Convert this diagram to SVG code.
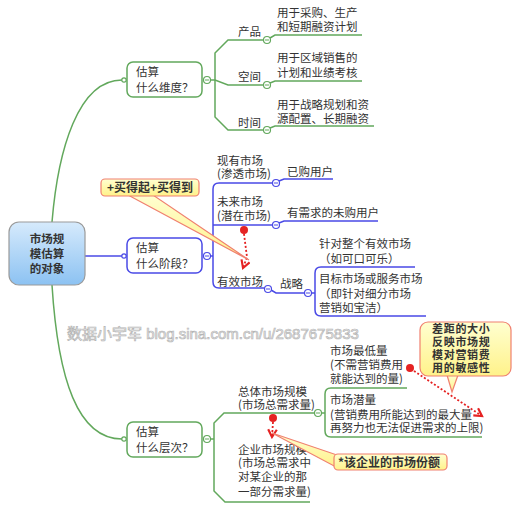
<svg xmlns="http://www.w3.org/2000/svg" width="523" height="508" viewBox="0 0 523 508">
<defs>
<linearGradient id="rootg" x1="0" y1="0" x2="0" y2="1">
<stop offset="0" stop-color="#d6eafc"/>
<stop offset="1" stop-color="#8cc2f2"/>
</linearGradient>
<linearGradient id="noteg" x1="0" y1="0" x2="0" y2="1">
<stop offset="0" stop-color="#ffffd0"/>
<stop offset="1" stop-color="#fff28a"/>
</linearGradient>
<marker id="arr" viewBox="0 0 10 10" refX="8" refY="5" markerWidth="6" markerHeight="6" orient="auto">
<path d="M1 1 L8 5 L1 9" fill="none" stroke="#e52222" stroke-width="2"/>
</marker>
<style>
text{font-family:"Noto Sans CJK SC","Noto Sans",sans-serif;font-size:11.5px;fill:#333}
.g{stroke:#62a85c;fill:none;stroke-width:1.5}
.b{stroke:#4a4ae6;fill:none;stroke-width:1.5}
.gn{stroke:#62a85c;fill:#fff;stroke-width:1.5}
.bn{stroke:#4a4ae6;fill:#fff;stroke-width:1.5}
.cg{stroke:#62a85c;fill:#fff;stroke-width:1.2}
.cb{stroke:#4a4ae6;fill:#fff;stroke-width:1.2}
.mg{stroke:#62a85c;stroke-width:1}
.mb{stroke:#4a4ae6;stroke-width:1}
.note{fill:url(#noteg);stroke:#f08070;stroke-width:1.2}
.nt{font-weight:bold;font-size:12px;fill:#333}
.nt2{font-weight:bold;font-size:11px;letter-spacing:0.7px;fill:#333}
.red{fill:#e52222}
.dot{stroke:#e52222;stroke-width:1.8;fill:none;stroke-dasharray:2 2}
.wm{font-family:"Liberation Sans","Noto Sans CJK SC",sans-serif;font-size:15px;fill:#f4f4f4;stroke:#a8a8a8;stroke-width:0.7}
</style>
</defs>

<g id="watermark" opacity="0.85">
<text class="wm" x="67" y="339">数据小宇军 blog.sina.com.cn/u/2687675833</text>
</g>

<g id="connectors">
<path class="g" d="M 52 222 C 58 150, 78 80, 122 80"/>
<path class="b" d="M 85 256 H 122"/>
<path class="g" d="M 52 285 C 58 380, 78 439, 122 439"/>
<circle class="cg" cx="124" cy="80" r="2.2"/>
<circle class="cb" cx="124" cy="256" r="2.2"/>
<circle class="cg" cx="124" cy="439" r="2.2"/>

<!-- branch 1 -->
<path class="g" d="M 210.5 80 H 215 L 228 85 H 263.5"/>
<path class="g" d="M 263.5 40 H 228 L 215 53 V 117 L 228 130 H 263.5"/>
<path class="g" d="M 270 38 L 275 35 H 362"/>
<path class="g" d="M 270 83 L 275 81 H 362"/>
<path class="g" d="M 270 128 L 275 126 H 374"/>

<!-- branch 2 -->
<path class="b" d="M 210.5 256 H 213"/>
<path class="b" d="M 272.5 183 H 219 Q 213 183 213 189 V 282 Q 213 288 219 288 H 264.5"/>
<path class="b" d="M 213 225 H 272.5"/>
<path class="b" d="M 279 181 L 284 179 H 333"/>
<path class="b" d="M 279 223 L 284 221 H 378"/>
<path class="b" d="M 271 290 L 276 293 H 304.5"/>
<path class="b" d="M 311.5 293 H 315"/>
<path class="b" d="M 415 267 H 321 Q 315 267 315 273 V 310 Q 315 316 321 316 H 426"/>

<!-- branch 3 -->
<path class="g" d="M 210.5 439 H 214"/>
<path class="g" d="M 314.5 413 H 224 L 214 423 V 491 L 225 502 H 310"/>
<path class="g" d="M 321.5 413 H 325"/>
<path class="g" d="M 407 388 H 331 Q 325 388 325 394 V 431 Q 325 437 331 437 H 482"/>
</g>

<g id="collapse-markers">
<circle class="cg" cx="207" cy="80" r="3.5"/><path class="mg" d="M205 80 H209"/>
<circle class="cb" cx="207" cy="256" r="3.5"/><path class="mb" d="M205 256 H209"/>
<circle class="cg" cx="207" cy="439" r="3.5"/><path class="mg" d="M205 439 H209"/>
<circle class="cg" cx="267" cy="40" r="3.5"/><path class="mg" d="M265 40 H269"/>
<circle class="cg" cx="267" cy="85" r="3.5"/><path class="mg" d="M265 85 H269"/>
<circle class="cg" cx="267" cy="130" r="3.5"/><path class="mg" d="M265 130 H269"/>
<circle class="cb" cx="276" cy="183" r="3.5"/><path class="mb" d="M274 183 H278"/>
<circle class="cb" cx="276" cy="225" r="3.5"/><path class="mb" d="M274 225 H278"/>
<circle class="cb" cx="268" cy="289" r="3.5"/><path class="mb" d="M266 289 H270"/>
<circle class="cb" cx="308" cy="293" r="3.5"/><path class="mb" d="M306 293 H310"/>
<circle class="cg" cx="318" cy="413" r="3.5"/><path class="mg" d="M316 413 H320"/>
</g>

<g id="root">
<rect x="9" y="222" width="76" height="63" rx="10" fill="url(#rootg)" stroke="#9a9a9a" stroke-width="1.2"/>
<text text-anchor="middle" font-weight="bold" font-size="12px"><tspan x="47" y="243">市场规</tspan><tspan x="47" y="258">模估算</tspan><tspan x="47" y="273">的对象</tspan></text>
</g>

<g id="n-dimension">
<rect class="gn" x="127" y="62" width="75" height="35" rx="6"/>
<text><tspan x="136" y="76">估算</tspan><tspan x="136" y="92">什么维度？</tspan></text>
</g>
<g id="n-stage">
<rect class="bn" x="127" y="238" width="75" height="35" rx="6"/>
<text><tspan x="136" y="252">估算</tspan><tspan x="136" y="268">什么阶段？</tspan></text>
</g>
<g id="n-level">
<rect class="gn" x="127" y="422" width="75" height="35" rx="6"/>
<text><tspan x="136" y="436">估算</tspan><tspan x="136" y="452">什么层次？</tspan></text>
</g>

<g id="n-product"><text x="238" y="36">产品</text></g>
<g id="n-space"><text x="238" y="81">空间</text></g>
<g id="n-time"><text x="238" y="127">时间</text></g>
<g id="l-product"><text><tspan x="277" y="17">用于采购、生产</tspan><tspan x="277" y="31">和短期融资计划</tspan></text></g>
<g id="l-space"><text><tspan x="277" y="62">用于区域销售的</tspan><tspan x="277" y="77">计划和业绩考核</tspan></text></g>
<g id="l-time"><text><tspan x="277" y="109">用于战略规划和资</tspan><tspan x="277" y="123">源配置、长期融资</tspan></text></g>

<g id="n-existing"><text><tspan x="217" y="165">现有市场</tspan><tspan x="217" y="178">(渗透市场)</tspan></text></g>
<g id="n-future"><text><tspan x="217" y="206">未来市场</tspan><tspan x="217" y="220">(潜在市场)</tspan></text></g>
<g id="n-effective"><text x="217" y="286">有效市场</text></g>
<g id="l-bought"><text x="287" y="176">已购用户</text></g>
<g id="l-unbought"><text x="287" y="217">有需求的未购用户</text></g>
<g id="n-strategy"><text x="280" y="288">战略</text></g>
<g id="l-whole"><text><tspan x="319" y="248">针对整个有效市场</tspan><tspan x="319" y="263">（如可口可乐）</tspan></text></g>
<g id="l-target"><text><tspan x="319" y="283">目标市场或服务市场</tspan><tspan x="319" y="298">（即针对细分市场</tspan><tspan x="319" y="312">营销如宝洁）</tspan></text></g>

<g id="n-total"><text><tspan x="238" y="396">总体市场规模</tspan><tspan x="238" y="409">(市场总需求量)</tspan></text></g>
<g id="n-enterprise"><text><tspan x="238" y="454">企业市场规模</tspan><tspan x="238" y="467">(市场总需求中</tspan><tspan x="238" y="481">对某企业的那</tspan><tspan x="238" y="496">一部分需求量)</tspan></text></g>
<g id="l-min"><text><tspan x="330" y="355">市场最低量</tspan><tspan x="330" y="369">(不需营销费用</tspan><tspan x="330" y="383">就能达到的量)</tspan></text></g>
<g id="l-potential"><text><tspan x="330" y="404">市场潜量</tspan><tspan x="330" y="419">(营销费用所能达到的最大量</tspan><tspan x="330" y="432">再努力也无法促进需求的上限)</tspan></text></g>

<g id="relations">
<circle class="red" cx="244" cy="230" r="4"/>
<path class="dot" d="M 244 234 L 247 257 L 243 268" marker-end="url(#arr)"/>
<circle class="red" cx="273" cy="418" r="4"/>
<path class="dot" d="M 273 422 L 272 437" marker-end="url(#arr)"/>
<circle class="red" cx="410" cy="368" r="4"/>
<path class="dot" d="M 414 371 L 482 416" marker-end="url(#arr)"/>
</g>

<g id="note-afford">
<polygon class="note" points="128,195 153,195 249,260"/>
<rect class="note" x="101" y="179" width="98" height="17" rx="4"/>
<text class="nt" x="150" y="192" text-anchor="middle">+买得起+买得到</text>
</g>
<g id="note-share">
<polygon class="note" points="272,433 340,456 336,467"/>
<rect class="note" x="334" y="454" width="113" height="16" rx="4"/>
<text class="nt" x="338" y="467">*该企业的市场份额</text>
</g>
<g id="note-gap">
<polygon class="note" points="447,375 458,375 452,392"/>
<rect class="note" x="420" y="322" width="91" height="54" rx="8"/>
<text class="nt2"><tspan x="432" y="333">差距的大小</tspan><tspan x="432" y="346">反映市场规</tspan><tspan x="432" y="359">模对营销费</tspan><tspan x="432" y="372">用的敏感性</tspan></text>
</g>
</svg>
